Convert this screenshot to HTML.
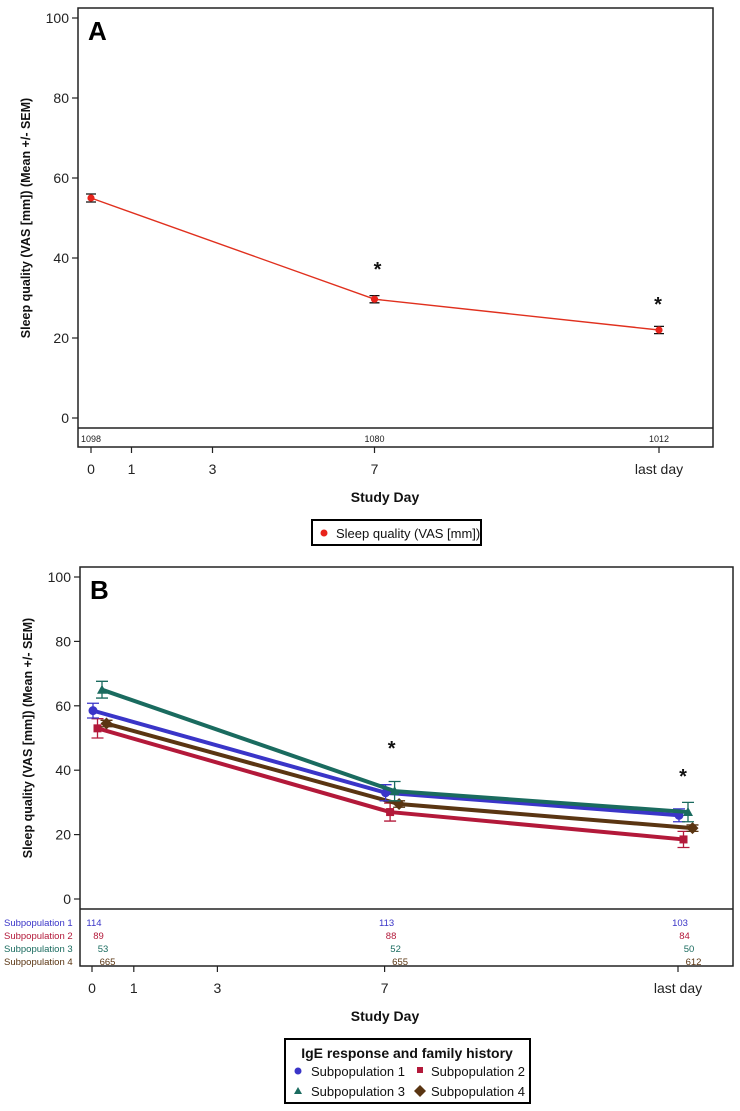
<!DOCTYPE html>
<html><head><meta charset="utf-8"><style>
body{margin:0;background:#fff}
svg{display:block;font-family:"Liberation Sans",Arial,sans-serif}
</style></head><body>
<svg id="fig" width="740" height="1111" viewBox="0 0 740 1111">
<g id="A"></g>
<g id="B"></g>
</svg>
<script>
const NS="http://www.w3.org/2000/svg";
// Panel A data
const aMeans=[55,29.7,22];
const aSem=[1,0.9,0.9];
const aN=["1098","1080","1012"];
const aXs=[0,7,"last"];
// Panel B data
const bSeries=["Subpopulation 1","Subpopulation 2","Subpopulation 3","Subpopulation 4"];
const b1=[58.5,33,26];
const b2=[53,27,18.5];
const b3=[65,33.5,27];
const b4=[54.5,29.5,22];
const bSem1=[2.3,2.5,2];
const bSem2=[3,2.8,2.5];
const bSem3=[2.6,3,3];
const bSem4=[1,1,1];
const bN1=["114","113","103"];
const bN2=["89","88","84"];
const bN3=["53","52","50"];
const bN4=["665","655","612"];
const yTicks=[0,20,40,60,80,100];
const xTickLabels=["0","1","3","7","last day"];
const xTickDays=[0,1,3,7,"last"];

function el(parent,tag,attrs,text){const e=document.createElementNS(NS,tag);for(const k in attrs)e.setAttribute(k,attrs[k]);if(text!==undefined)e.textContent=text;parent.appendChild(e);return e;}

function panel(g,cfg){
  const xS=d=>d==="last"?cfg.xLast:cfg.x0+d*cfg.xPer;
  const yS=v=>cfg.y0-v*cfg.yPer;
  let r=el(g,"rect",{x:cfg.L,y:cfg.T,width:cfg.R-cfg.L,height:cfg.B-cfg.T,fill:"none",stroke:"#222","stroke-width":1.5});
  
  let sep=el(g,"line",{x1:cfg.L,x2:cfg.R,y1:cfg.sep,y2:cfg.sep,stroke:"#222","stroke-width":1.5});
  
  yTicks.forEach(t=>{
    const y=yS(t);
    el(g,"line",{x1:cfg.L-6,x2:cfg.L,y1:y,y2:y,stroke:"#222","stroke-width":1.2});
    let tx=el(g,"text",{x:cfg.L-9,y:y+5,"text-anchor":"end","font-size":14,fill:"#222"},t);
    
  });
  xTickDays.forEach((d,i)=>{
    const x=xS(d);
    el(g,"line",{x1:x,x2:x,y1:cfg.B,y2:cfg.B+6,stroke:"#222","stroke-width":1.2});
    let tx=el(g,"text",{x:x,y:cfg.B+27,"text-anchor":"middle","font-size":14,fill:"#222"},xTickLabels[i]);
    
  });
  let xt=el(g,"text",{x:cfg.xTitleX,y:cfg.B+55,"text-anchor":"middle","font-size":14,"font-weight":"bold",fill:"#111"},"Study Day");
  
  const cy=(cfg.T+cfg.sep)/2;
  let yt=el(g,"text",{x:0,y:0,transform:`translate(${cfg.L-48},${cy}) rotate(-90)`,"text-anchor":"middle","font-size":12.5,"font-weight":"bold",fill:"#111"},"Sleep quality (VAS [mm]) (Mean +/- SEM)");
  
  let lab=el(g,"text",{x:cfg.L+10,y:cfg.T+32,"font-size":26,"font-weight":"bold",fill:"#000"},cfg.label);
  
  cfg.stars.forEach(s=>{
    let st=el(g,"text",{x:xS(s[0])+s[1],y:s[2],"text-anchor":"middle","font-size":20,"font-weight":"bold",fill:"#111"},"*");
    
  });
  return {xS,yS};
}

// Panel A
const gA=document.getElementById("A");
const ax=panel(gA,{L:78,R:713,T:8,B:447,sep:428,x0:91,xPer:40.5,xLast:659,y0:418,yPer:4,label:"A",xTitleX:385,stars:[[7,3,276],["last",-1,311]]});
const aPts=aXs.map((d,i)=>[ax.xS(d),ax.yS(aMeans[i])]);
let la=el(gA,"polyline",{points:aPts.map(p=>p.join(",")).join(" "),fill:"none",stroke:"#e0301e","stroke-width":1.4});

aXs.forEach((d,i)=>{
  const x=ax.xS(d),y1=ax.yS(aMeans[i]+aSem[i]),y2=ax.yS(aMeans[i]-aSem[i]);
  el(gA,"path",{d:`M${x},${y1}V${y2}M${x-5},${y1}H${x+5}M${x-5},${y2}H${x+5}`,stroke:"#111","stroke-width":1.3});
  let c=el(gA,"circle",{cx:x,cy:ax.yS(aMeans[i]),r:3.6,fill:"#e8231b"});
  
  let n=el(gA,"text",{x:x,y:442,"text-anchor":"middle","font-size":9,fill:"#222"},aN[i]);
  
});
let lgA=el(gA,"g",{});

el(lgA,"rect",{x:312,y:520,width:169,height:25,fill:"#fff",stroke:"#000","stroke-width":2});
el(lgA,"circle",{cx:324,cy:533,r:3.5,fill:"#e8231b"});
el(lgA,"text",{x:336,y:538,"font-size":13,fill:"#111"},"Sleep quality (VAS [mm])");

// Panel B
const gB=document.getElementById("B");
const bx=panel(gB,{L:80,R:733,T:567,B:966,sep:909,x0:92,xPer:41.8,xLast:678,y0:899,yPer:3.22,label:"B",xTitleX:385,stars:[[7,7,755],["last",5,783]]});
const colors=["#3a35c8","#b3193a","#1a6b5f","#5a3512"];
const bMeans=[b1,b2,b3,b4],bSems=[bSem1,bSem2,bSem3,bSem4],bNs=[bN1,bN2,bN3,bN4];
const names=["subpopulation-1","subpopulation-2","subpopulation-3","subpopulation-4"];
[2,0,3,1].forEach(s=>{}); // draw order below
const order=[1,3,0,2];
order.forEach(s=>{
  const off=s*4.5+1;
  const pts=aXs.map((d,i)=>[bx.xS(d)+off,bx.yS(bMeans[s][i])]);
  let l=el(gB,"polyline",{points:pts.map(p=>p.join(",")).join(" "),fill:"none",stroke:colors[s],"stroke-width":4,"stroke-linejoin":"round"});
  
  pts.forEach((p,i)=>{
    const y1=bx.yS(bMeans[s][i]+bSems[s][i]),y2=bx.yS(bMeans[s][i]-bSems[s][i]);
    el(gB,"path",{d:`M${p[0]},${y1}V${y2}M${p[0]-6},${y1}H${p[0]+6}M${p[0]-6},${y2}H${p[0]+6}`,stroke:colors[s],"stroke-width":1.3,fill:"none"});
    let m;
    if(s===0)m=el(gB,"circle",{cx:p[0],cy:p[1],r:4.5,fill:colors[s]});
    else if(s===1)m=el(gB,"rect",{x:p[0]-4,y:p[1]-4,width:8,height:8,fill:colors[s]});
    else if(s===2)m=el(gB,"path",{d:`M${p[0]},${p[1]-5}L${p[0]+5},${p[1]+4}L${p[0]-5},${p[1]+4}Z`,fill:colors[s]});
    else m=el(gB,"path",{d:`M${p[0]},${p[1]-6}L${p[0]+6},${p[1]}L${p[0]},${p[1]+6}L${p[0]-6},${p[1]}Z`,fill:colors[s]});
    
  });
});
bSeries.forEach((nm,s)=>{
  const y=926+s*13;
  let t=el(gB,"text",{x:4,y:y,"font-size":9.5,fill:colors[s]},nm);
  
  aXs.forEach((d,i)=>{
    let n=el(gB,"text",{x:bx.xS(d)+2+s*4.5,y:y,"text-anchor":"middle","font-size":9.5,fill:colors[s]},bNs[s][i]);
    
  });
});
let lgB=el(gB,"g",{});

el(lgB,"rect",{x:285,y:1039,width:245,height:64,fill:"#fff",stroke:"#000","stroke-width":2});
el(lgB,"text",{x:407,y:1058,"text-anchor":"middle","font-size":14,"font-weight":"bold",fill:"#111"},"IgE response and family history");
el(lgB,"circle",{cx:298,cy:1071,r:3.5,fill:colors[0]});
el(lgB,"text",{x:311,y:1076,"font-size":13,fill:"#111"},"Subpopulation 1");
el(lgB,"rect",{x:417,y:1067,width:6,height:6,fill:colors[1]});
el(lgB,"text",{x:431,y:1076,"font-size":13,fill:"#111"},"Subpopulation 2");
el(lgB,"path",{d:"M298,1087L302,1094L294,1094Z",fill:colors[2]});
el(lgB,"text",{x:311,y:1096,"font-size":13,fill:"#111"},"Subpopulation 3");
el(lgB,"path",{d:"M420,1085L426,1091L420,1097L414,1091Z",fill:colors[3]});
el(lgB,"text",{x:431,y:1096,"font-size":13,fill:"#111"},"Subpopulation 4");
</script>
</body></html>
